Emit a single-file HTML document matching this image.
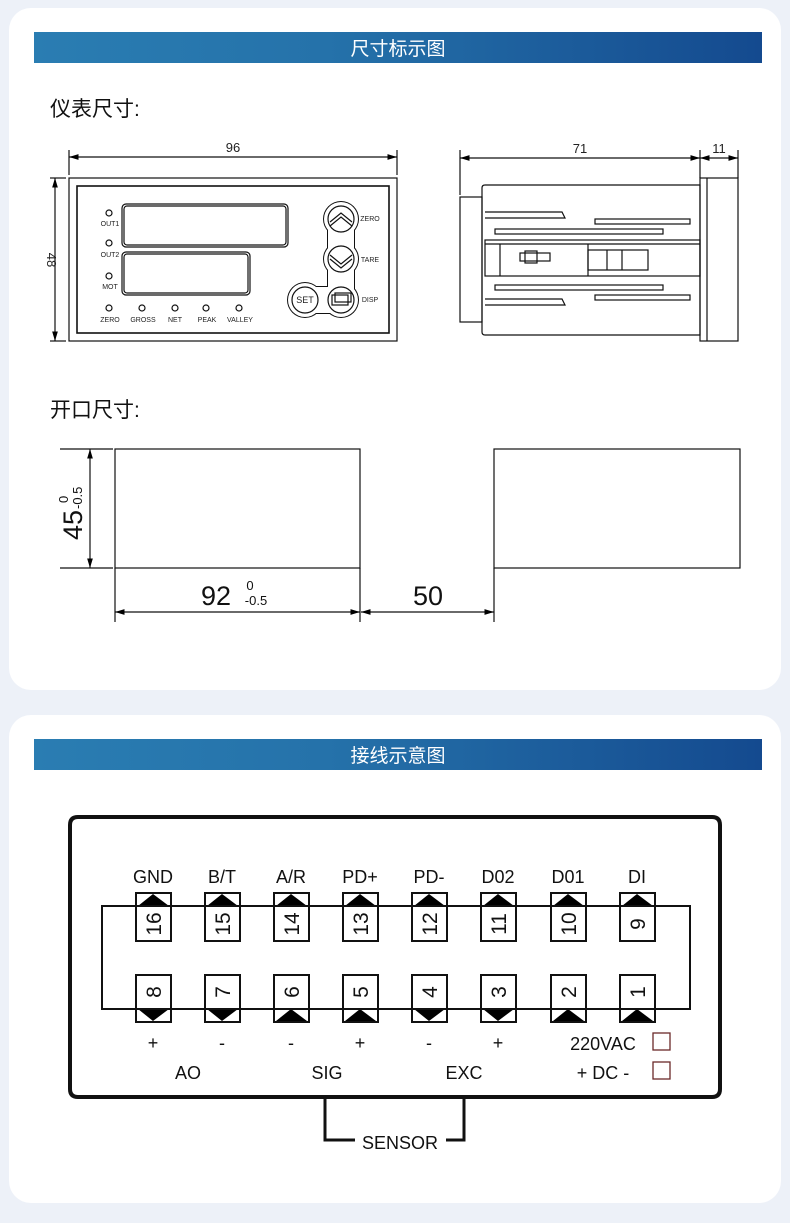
<!DOCTYPE html>
<html><head><meta charset="utf-8"><style>
html,body{margin:0;padding:0;background:#edf1f8;}
svg{display:block}
text{font-family:"Liberation Sans","Noto Sans CJK SC",sans-serif;}
</style></head><body>
<svg width="790" height="1223" viewBox="0 0 790 1223" xmlns="http://www.w3.org/2000/svg">
<defs>
<linearGradient id="g" x1="0" x2="1" y1="0" y2="0"><stop offset="0" stop-color="#2a7db2"/><stop offset="0.4" stop-color="#2572aa"/><stop offset="1" stop-color="#144a8f"/></linearGradient>
<marker id="a" viewBox="0 0 10 10" refX="10" refY="5" markerWidth="8" markerHeight="8" orient="auto-start-reverse"><path d="M0,2 L10,5 L0,8z" fill="#000"/></marker>
</defs>
<rect width="790" height="1223" fill="#edf1f8"/>
<rect x="9" y="8" width="772" height="682" rx="22" fill="#fff"/>
<rect x="9" y="715" width="772" height="488" rx="22" fill="#fff"/>
<rect x="34" y="32" width="728" height="31" fill="url(#g)"/>
<text x="398" y="55" fill="#fff" font-size="19" text-anchor="middle">尺寸标示图</text>
<rect x="34" y="739" width="728" height="31" fill="url(#g)"/>
<text x="398" y="762" fill="#fff" font-size="19" text-anchor="middle">接线示意图</text>
<text x="50" y="116" font-size="21" fill="#111">仪表尺寸:</text>
<text x="50" y="417" font-size="21" fill="#111">开口尺寸:</text>

<!-- key blob outline via union trick -->
<g fill="#111">
<circle cx="341" cy="219" r="18"/><circle cx="341" cy="259" r="18"/><circle cx="341" cy="300" r="18"/><circle cx="305" cy="300" r="18"/>
<rect x="327" y="219" width="28" height="81"/><rect x="305" y="286" width="36" height="28"/>
</g>
<g fill="#fff">
<circle cx="341" cy="219" r="17"/><circle cx="341" cy="259" r="17"/><circle cx="341" cy="300" r="17"/><circle cx="305" cy="300" r="17"/>
<rect x="328" y="219" width="26" height="81"/><rect x="305" y="287" width="36" height="26"/>
</g>

<g stroke="#111" fill="none" stroke-width="1.2">
<!-- front panel -->
<line x1="69" y1="150" x2="69" y2="175"/><line x1="397" y1="150" x2="397" y2="175"/>
<line x1="69" y1="157" x2="397" y2="157" marker-start="url(#a)" marker-end="url(#a)"/>
<line x1="50" y1="178" x2="66" y2="178"/><line x1="50" y1="341" x2="66" y2="341"/>
<line x1="55" y1="178" x2="55" y2="341" marker-start="url(#a)" marker-end="url(#a)"/>
<rect x="69" y="178" width="328" height="163"/>
<rect x="77" y="186" width="312" height="147" stroke-width="1.6"/>
<rect x="122" y="204" width="166" height="43" rx="4"/><rect x="124" y="206" width="162" height="39" rx="3"/>
<rect x="122" y="252" width="128" height="43" rx="4"/><rect x="124" y="254" width="124" height="39" rx="3"/>
<circle cx="109" cy="213" r="3"/><circle cx="109" cy="243" r="3"/><circle cx="109" cy="276" r="3"/>
<circle cx="109" cy="308" r="3"/><circle cx="142" cy="308" r="3"/><circle cx="175" cy="308" r="3"/><circle cx="206" cy="308" r="3"/><circle cx="239" cy="308" r="3"/>
<circle cx="341" cy="219" r="13"/><circle cx="341" cy="259" r="13"/><circle cx="341" cy="300" r="13"/><circle cx="305" cy="300" r="13"/>
<path d="M330,222 l11,-9 l11,9 M330,226 l11,-9 l11,9"/>
<path d="M330,255 l11,9 l11,-9 M330,259 l11,9 l11,-9"/>
<rect x="332" y="295" width="16" height="10"/><rect x="335" y="293" width="16" height="9"/>
<!-- side view -->
<line x1="460" y1="150" x2="460" y2="195"/><line x1="700" y1="150" x2="700" y2="178"/><line x1="738" y1="150" x2="738" y2="178"/>
<line x1="460" y1="158" x2="700" y2="158" marker-start="url(#a)" marker-end="url(#a)"/>
<line x1="700" y1="158" x2="738" y2="158" marker-start="url(#a)" marker-end="url(#a)"/>
<rect x="460" y="197" width="22" height="125"/>
<path d="M485,185 H700 V335 H485 q-3,0 -3,-3 V188 q0,-3 3,-3z"/>
<rect x="700" y="178" width="38" height="163"/><line x1="707" y1="178" x2="707" y2="341"/>
<rect x="485" y="240" width="215" height="36"/><line x1="485" y1="244" x2="700" y2="244"/>
<path d="M485,212 H562 L565,218 H485"/><path d="M485,305 H565 L562,299 H485"/>
<rect x="495" y="229" width="168" height="5"/><rect x="595" y="219" width="95" height="5"/>
<rect x="495" y="285" width="168" height="5"/><rect x="595" y="295" width="95" height="5"/>
<rect x="520" y="253" width="30" height="8"/><rect x="525" y="251" width="12" height="12"/>
<rect x="588" y="250" width="60" height="20"/><line x1="607" y1="250" x2="607" y2="270"/><line x1="622" y1="250" x2="622" y2="270"/>
<line x1="588" y1="244" x2="588" y2="276"/><line x1="500" y1="244" x2="500" y2="276"/>
<!-- cutout -->
<rect x="115" y="449" width="245" height="119"/>
<rect x="494" y="449" width="246" height="119"/>
<line x1="60" y1="449" x2="113" y2="449"/><line x1="60" y1="568" x2="113" y2="568"/>
<line x1="90" y1="449" x2="90" y2="568" marker-start="url(#a)" marker-end="url(#a)"/>
<line x1="115" y1="568" x2="115" y2="622"/><line x1="360" y1="568" x2="360" y2="622"/><line x1="494" y1="568" x2="494" y2="622"/>
<line x1="115" y1="612" x2="360" y2="612" marker-start="url(#a)" marker-end="url(#a)"/>
<line x1="361" y1="612" x2="494" y2="612" marker-start="url(#a)" marker-end="url(#a)"/>
</g>
<g font-family="Liberation Serif,serif" font-size="13" fill="#222" text-anchor="middle">
<text x="233" y="152">96</text><text x="580" y="153">71</text><text x="719" y="153">11</text>
<text transform="translate(47,260) rotate(90)">48</text>
</g>
<g font-size="7" fill="#222" text-anchor="middle">
<text x="110" y="226">OUT1</text><text x="110" y="257">OUT2</text><text x="110" y="289">MOT</text>
<text x="110" y="322">ZERO</text><text x="143" y="322">GROSS</text><text x="175" y="322">NET</text><text x="207" y="322">PEAK</text><text x="240" y="322">VALLEY</text>
<text x="370" y="221">ZERO</text><text x="370" y="262">TARE</text><text x="370" y="302">DISP</text>
<text x="305" y="303" font-size="9">SET</text>
</g>
<g fill="#111">
<text x="216" y="605" font-size="27" text-anchor="middle">92</text>
<text x="250" y="590" font-size="13" text-anchor="middle">0</text><text x="256" y="605" font-size="13" text-anchor="middle">-0.5</text>
<text x="428" y="605" font-size="27" text-anchor="middle">50</text>
<g transform="translate(82,525) rotate(-90)"><text x="0" y="0" font-size="27" text-anchor="middle">45</text><text x="22" y="-14" font-size="13">0</text><text x="16" y="0" font-size="13">-0.5</text></g>
</g>

<!-- wiring -->
<g stroke="#111" fill="none">
<path d="M78,817 H712 Q720,817 720,825 V1089 Q720,1097 712,1097 H78 Q70,1097 70,1089 V825 Q70,817 78,817z" stroke-width="4"/>
<rect x="102" y="906" width="588" height="103" stroke-width="2"/>
<path d="M325,1097 V1140 H355 M464,1097 V1140 H446" stroke-width="3"/>
</g>
<g stroke="#111" stroke-width="2" fill="#fff">
<rect x="136" y="893" width="35" height="48"/><rect x="205" y="893" width="35" height="48"/><rect x="274" y="893" width="35" height="48"/><rect x="343" y="893" width="35" height="48"/><rect x="412" y="893" width="35" height="48"/><rect x="481" y="893" width="35" height="48"/><rect x="551" y="893" width="35" height="48"/><rect x="620" y="893" width="35" height="48"/>
<rect x="136" y="975" width="35" height="47"/><rect x="205" y="975" width="35" height="47"/><rect x="274" y="975" width="35" height="47"/><rect x="343" y="975" width="35" height="47"/><rect x="412" y="975" width="35" height="47"/><rect x="481" y="975" width="35" height="47"/><rect x="551" y="975" width="35" height="47"/><rect x="620" y="975" width="35" height="47"/>
</g>
<g fill="#000">
<path d="M138,906 L153,894 L169,906z M207,906 L222,894 L238,906z M276,906 L291,894 L307,906z M345,906 L360,894 L376,906z M414,906 L429,894 L445,906z M483,906 L498,894 L514,906z M553,906 L568,894 L584,906z M622,906 L637,894 L653,906z"/>
<path d="M138,1009 L153,1021 L169,1009z M207,1009 L222,1021 L238,1009z M276,1021 L291,1009 L307,1021z M345,1021 L360,1009 L376,1021z M414,1009 L429,1021 L445,1009z M483,1009 L498,1021 L514,1009z M553,1021 L568,1009 L584,1021z M622,1021 L637,1009 L653,1021z"/>
</g>
<line x1="102" y1="906" x2="690" y2="906" stroke="#111" stroke-width="2"/>
<line x1="102" y1="1009" x2="690" y2="1009" stroke="#111" stroke-width="2"/>
<g font-size="21" fill="#111" text-anchor="middle">
<text transform="translate(161,924) rotate(-90)">16</text><text transform="translate(230,924) rotate(-90)">15</text><text transform="translate(299,924) rotate(-90)">14</text><text transform="translate(368,924) rotate(-90)">13</text><text transform="translate(437,924) rotate(-90)">12</text><text transform="translate(506,924) rotate(-90)">11</text><text transform="translate(576,924) rotate(-90)">10</text><text transform="translate(645,924) rotate(-90)">9</text>
<text transform="translate(161,992) rotate(-90)">8</text><text transform="translate(230,992) rotate(-90)">7</text><text transform="translate(299,992) rotate(-90)">6</text><text transform="translate(368,992) rotate(-90)">5</text><text transform="translate(437,992) rotate(-90)">4</text><text transform="translate(506,992) rotate(-90)">3</text><text transform="translate(576,992) rotate(-90)">2</text><text transform="translate(645,992) rotate(-90)">1</text>
</g>
<g font-size="18" fill="#111" text-anchor="middle">
<text x="153" y="883">GND</text><text x="222" y="883">B/T</text><text x="291" y="883">A/R</text><text x="360" y="883">PD+</text><text x="429" y="883">PD-</text><text x="498" y="883">D02</text><text x="568" y="883">D01</text><text x="637" y="883">DI</text>
<text x="153" y="1049">+</text><text x="222" y="1049">-</text><text x="291" y="1049">-</text><text x="360" y="1049">+</text><text x="429" y="1049">-</text><text x="498" y="1049">+</text>
<text x="188" y="1079">AO</text><text x="327" y="1079">SIG</text><text x="464" y="1079">EXC</text>
<text x="603" y="1050">220VAC</text><text x="603" y="1079">+ DC -</text>
<text x="400" y="1149">SENSOR</text>
</g>
<rect x="653" y="1033" width="17" height="17" fill="none" stroke="#6b2a2a" stroke-width="1.3"/>
<rect x="653" y="1062" width="17" height="17" fill="none" stroke="#6b2a2a" stroke-width="1.3"/>
</svg>
</body></html>
